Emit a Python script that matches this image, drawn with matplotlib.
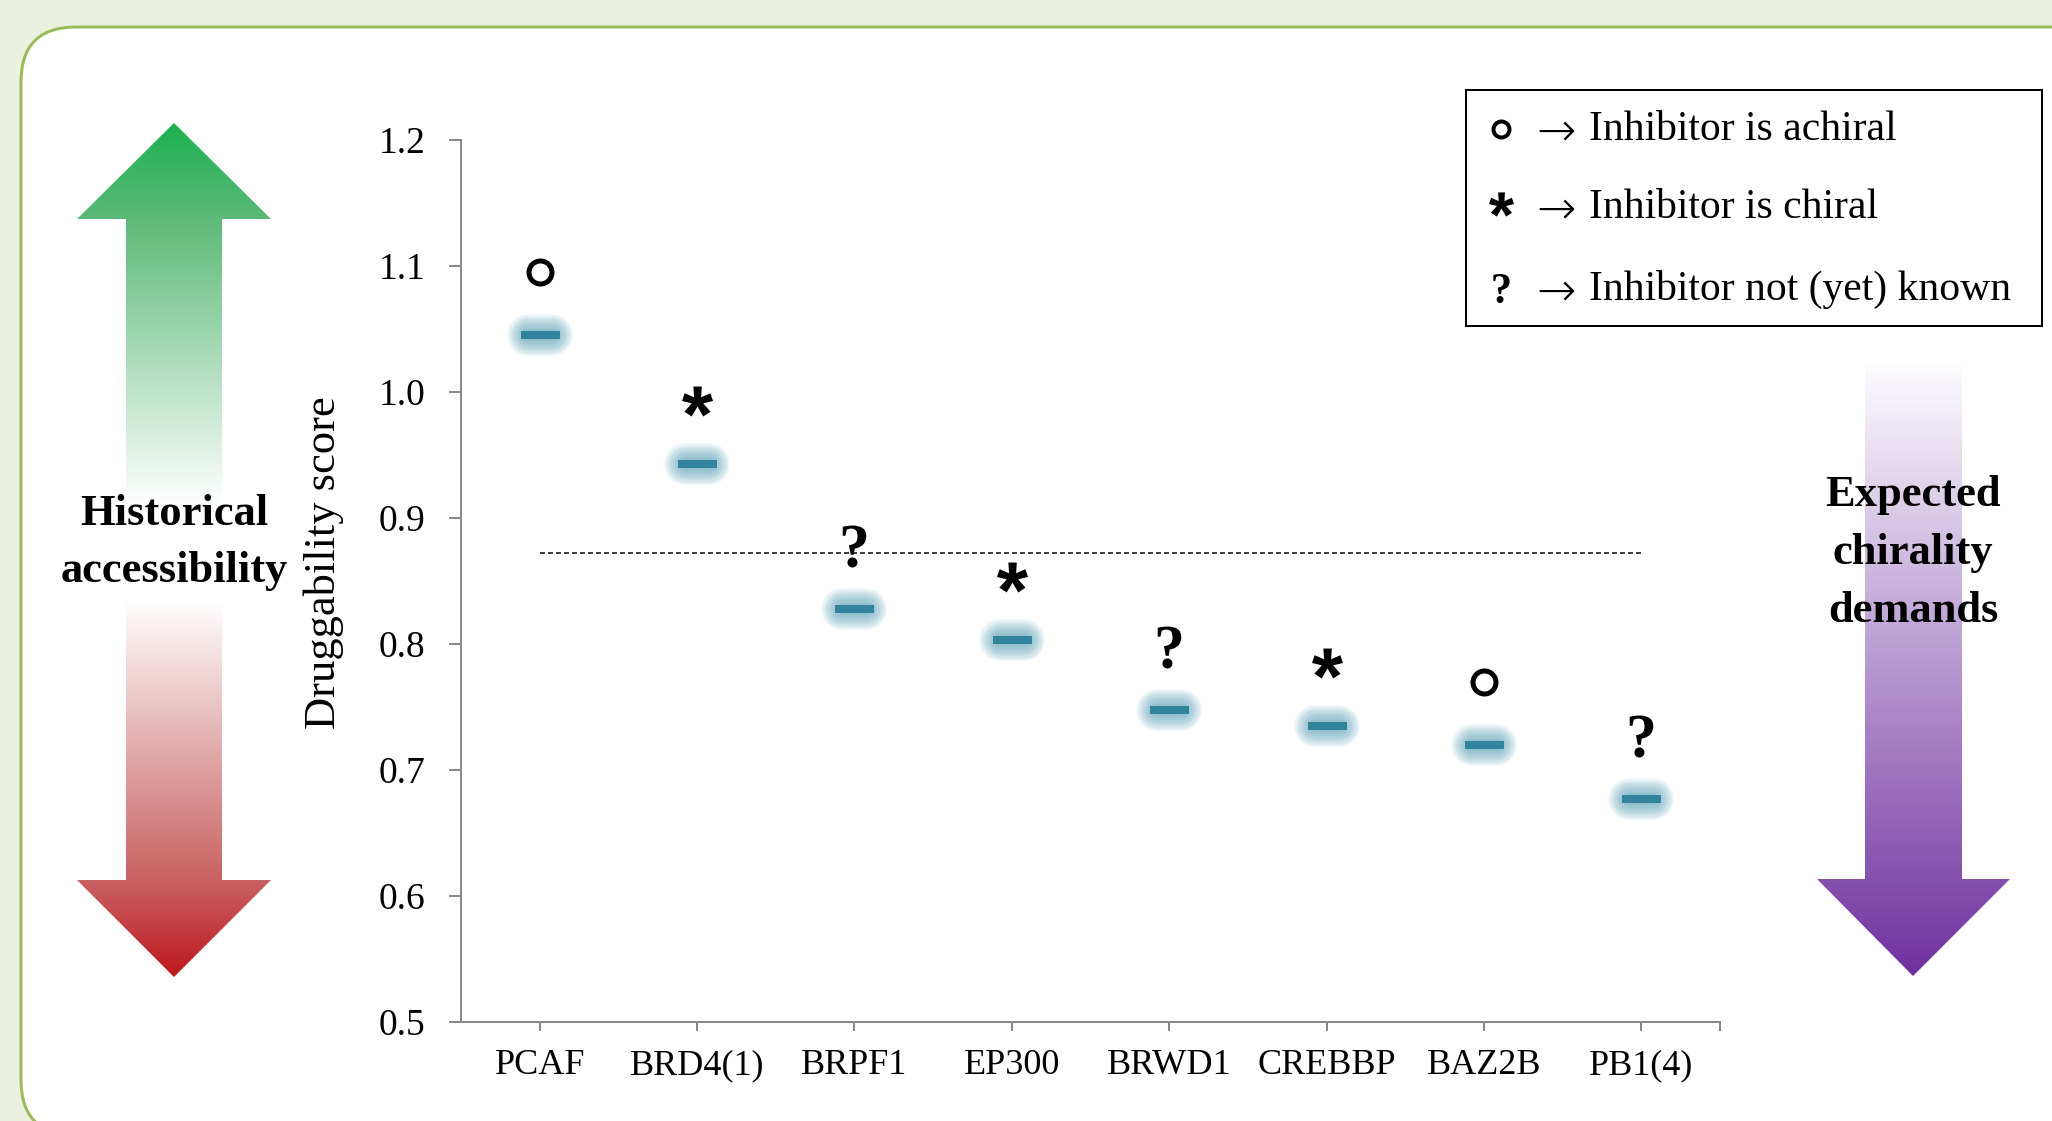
import numpy as np
import matplotlib
matplotlib.use('Agg')
import matplotlib.pyplot as plt
from matplotlib.patches import FancyBboxPatch, Polygon, Rectangle
from matplotlib.textpath import TextPath
from matplotlib.font_manager import FontProperties
from matplotlib.path import Path

# ---------------- data ----------------
categories = ['PCAF', 'BRD4(1)', 'BRPF1', 'EP300', 'BRWD1', 'CREBBP', 'BAZ2B', 'PB1(4)']
scores = [1.045, 0.943, 0.828, 0.803, 0.748, 0.735, 0.720, 0.677]
inhibitor_type = ['achiral', 'chiral', 'unknown', 'chiral', 'unknown', 'chiral', 'achiral', 'unknown']
threshold = 0.872
y_ticks = [0.5, 0.6, 0.7, 0.8, 0.9, 1.0, 1.1, 1.2]
legend_types = ['achiral', 'chiral', 'unknown']
legend_labels = ['Inhibitor is achiral', 'Inhibitor is chiral', 'Inhibitor not (yet) known']
ylabel = 'Druggability score'
left_text = ['Historical', 'accessibility']
right_text = ['Expected', 'chirality', 'demands']

# ---------------- figure ----------------
W, H = 2052, 1121
DPI = 100
PT = 72.0 / DPI   # points per pixel
SERIF = ['Liberation Serif', 'DejaVu Serif']
plt.rcParams['font.family'] = SERIF
plt.rcParams['lines.scale_dashes'] = False

fig = plt.figure(figsize=(W / DPI, H / DPI), dpi=DPI, facecolor='#EBF1DE')

# background / decoration axes in pixel coordinates
bg = fig.add_axes([0, 0, 1, 1], zorder=0)
bg.set_xlim(0, W)
bg.set_ylim(H, 0)
bg.axis('off')

panel = FancyBboxPatch((21, 27), 2300, 1108, boxstyle='round,pad=0,rounding_size=55',
                       facecolor='white', edgecolor='#9BBB59', linewidth=3 * PT, zorder=1)
bg.add_patch(panel)


def gradient_arrow(poly_pts, y0, y1, stops_y, stops_rgb, x0, x1):
    ys = np.linspace(y0, y1, 700)
    rgb = np.stack([np.interp(ys, stops_y, [c[i] for c in stops_rgb]) for i in range(3)], axis=1) / 255.0
    img = rgb[:, None, :]
    im = bg.imshow(img, extent=(x0, x1, y1, y0), origin='upper', aspect='auto',
                   interpolation='bilinear', zorder=2)
    poly = Polygon(poly_pts, closed=True, transform=bg.transData, facecolor='none', edgecolor='none')
    bg.add_patch(poly)
    im.set_clip_path(poly)


# left double arrow (green -> white -> red)
cx = 174
left_pts = [(cx, 123), (271, 219), (222, 219), (222, 880), (271, 880), (cx, 977),
            (77, 880), (126, 880), (126, 219), (77, 219)]
gradient_arrow(left_pts, 123, 977,
               [123, 219, 505, 600, 880, 977],
               [(29, 176, 80), (92, 186, 120), (255, 255, 255), (255, 255, 255), (201, 98, 98), (190, 24, 30)],
               77, 271)

# right down arrow (white -> purple)
rx = 1913
right_pts = [(1865, 365), (1962, 365), (1962, 879), (2010, 879), (rx, 976), (1817, 879), (1865, 879)]
gradient_arrow(right_pts, 365, 976,
               [365, 976],
               [(252, 252, 254), (112, 48, 160)],
               1817, 2010)
bg.set_xlim(0, W)
bg.set_ylim(H, 0)

for txt, yb in zip(left_text, [525, 582]):
    bg.text(cx, yb, txt, ha='center', va='baseline', fontsize=32, fontweight='bold', zorder=5)
for txt, yb in zip(right_text, [506, 564, 622]):
    bg.text(rx, yb, txt, ha='center', va='baseline', fontsize=32, fontweight='bold', zorder=5)


# glyph markers
def glyph_marker(ch, family, weight='bold'):
    tp = TextPath((0, 0), ch, size=100, prop=FontProperties(family=family, weight=weight))
    v = tp.vertices.copy()
    codes = tp.codes.copy()
    start = v[0].copy()
    for i, c in enumerate(codes):
        if c == Path.MOVETO:
            start = v[i].copy()
        elif c == Path.CLOSEPOLY:
            v[i] = start
    x0, y0 = v.min(axis=0)
    x1, y1 = v.max(axis=0)
    v[:, 0] -= (x0 + x1) / 2
    v[:, 1] -= (y0 + y1) / 2
    return Path(v, codes)


ast_path = glyph_marker('*', 'Liberation Sans')
q_path = glyph_marker('?', 'Liberation Serif', 'bold')

# ---------------- legend box ----------------
bg.add_patch(Rectangle((1466, 90), 576, 236, facecolor='white', edgecolor='black',
                       linewidth=2 * PT, zorder=3))
leg_baselines = [140, 218, 300]
leg_style = {
    'achiral': dict(marker='o', ms=16 * PT, mfc='none', mec='black', mew=4 * PT, dy=-11),
    'chiral': dict(marker=ast_path, ms=25 * PT, mfc='black', mec='black', mew=0, dy=-14),
    'unknown': dict(marker=q_path, ms=29 * PT, mfc='black', mec='black', mew=0, dy=-12),
}
for t, lab, yb in zip(legend_types, legend_labels, leg_baselines):
    st = dict(leg_style[t])
    dy = st.pop('dy')
    bg.plot([1501], [yb + dy], linestyle='none', zorder=6, **st)
    bg.text(1556, yb - 12, '\u2192', ha='center', va='center_baseline', fontsize=34,
            family=['DejaVu Sans'], fontweight='light', zorder=6)
    bg.text(1589, yb, lab, ha='left', va='baseline', fontsize=30, zorder=6)

# ---------------- main axes ----------------
ax_l, ax_r, ax_t, ax_b = 461, 1720, 140, 1022
ax = fig.add_axes([ax_l / W, (H - ax_b) / H, (ax_r - ax_l) / W, (ax_b - ax_t) / H], zorder=2)
ax.patch.set_alpha(0)
n = len(categories)
x = np.arange(n)
ax.set_xlim(-0.5, n - 0.5)
ax.set_ylim(0.5, 1.2)

px_per_unit = (ax_r - ax_l) / n
bar_color = '#31849B'

# glow
d = 12 / px_per_unit
nl = 14
for k in range(nl):
    lw = (42 - k * 32 / (nl - 1)) * PT
    for xi, yi in zip(x, scores):
        ax.plot([xi - d, xi + d], [yi, yi], color='#5DA3BB', alpha=0.07, lw=lw,
                solid_capstyle='round', zorder=2)
# bars (short horizontal marks)
ax.plot(x, scores, linestyle='none', marker='_', ms=39 * PT, mew=8 * PT, color=bar_color, zorder=4)

# threshold
ax.hlines(threshold, 0, n - 1, colors='black', linewidth=1.5 * PT,
          linestyles=(0, (5 * PT, 3 * PT)), zorder=3)

# inhibitor symbols
main_style = {
    'achiral': dict(marker='o', ms=23 * PT, mfc='none', mec='black', mew=5 * PT),
    'chiral': dict(marker=ast_path, ms=31 * PT, mfc='black', mec='black', mew=0),
    'unknown': dict(marker=q_path, ms=42 * PT, mfc='black', mec='black', mew=0),
}
sym_offset = 0.05
for t in legend_types:
    xs = [xi for xi, tt in zip(x, inhibitor_type) if tt == t]
    ys = [s + sym_offset for s, tt in zip(scores, inhibitor_type) if tt == t]
    ax.plot(xs, ys, linestyle='none', zorder=5, **main_style[t])

# axes styling
axis_gray = '#898989'
for s in ['top', 'right']:
    ax.spines[s].set_visible(False)
for s in ['left', 'bottom']:
    ax.spines[s].set_color(axis_gray)
    ax.spines[s].set_linewidth(2 * PT)

ax.set_yticks(y_ticks, labels=[f'{t:.1f}' for t in y_ticks])
ax.set_xticks(x, labels=categories)
ax.set_xticks([n - 0.5], minor=True)
ax.tick_params(axis='y', direction='out', length=12 * PT, width=2 * PT, color=axis_gray,
               pad=17, labelsize=27, labelcolor='black')
ax.tick_params(axis='x', which='both', direction='out', length=9 * PT, width=2 * PT,
               color=axis_gray, pad=13, labelsize=26, labelcolor='black')

ax.set_ylabel(ylabel, fontsize=32)
ax.yaxis.label.set_verticalalignment('center')
ax.yaxis.label.set_rotation_mode('default')
ax.yaxis.set_label_coords((324 - ax_l) / (ax_r - ax_l), (ax_b - 563) / (ax_b - ax_t))

fig.savefig('out.png', dpi=DPI, facecolor=fig.get_facecolor())
